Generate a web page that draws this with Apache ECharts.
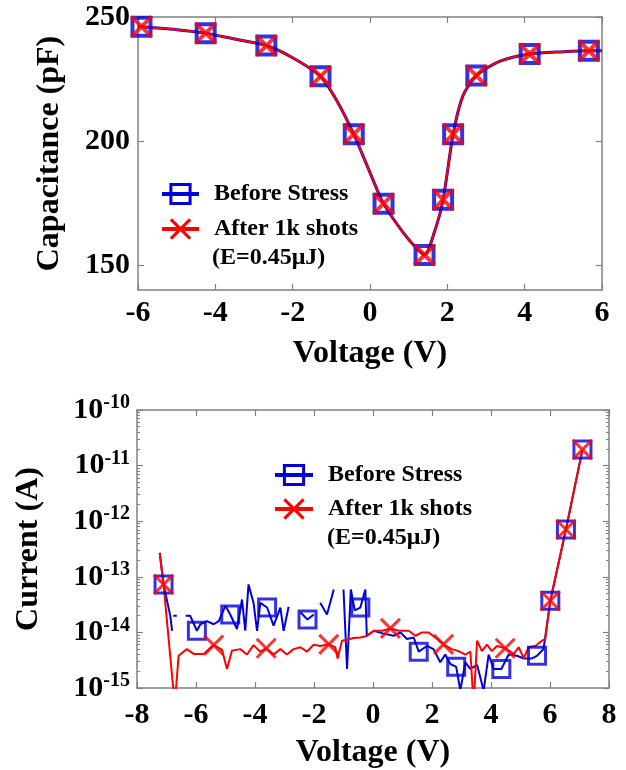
<!DOCTYPE html>
<html><head><meta charset="utf-8">
<script src="https://cdn.jsdelivr.net/npm/echarts@6/dist/echarts.min.js"></script>
<style>html,body{margin:0;padding:0;background:#fff}#c{width:626px;height:770px}</style>
</head><body><div id="c"></div>
<script>
// ---------- Top panel: C-V ----------
const capV      = [-6.0, -5.91, -5.0, -4.25, -3.5, -2.68, -1.99, -1.28, -0.85, -0.42, -0.04, 0.35, 0.84, 1.2, 1.41, 1.67, 1.89, 2.15, 2.4, 2.75, 3.35, 4.13, 5.0, 5.66, 6.0];
const capBefore = [246.4, 246.1, 244.9, 243.5, 241.1, 238.5, 233.5, 226.1, 216.1, 202.8, 188.8, 174.8, 163.5, 156.8, 154.1, 163.6, 176.4, 202.8, 218.1, 226.4, 232.1, 235.1, 236.0, 236.4, 236.4];
const capAfter  = [246.4, 246.1, 244.9, 243.5, 241.1, 238.5, 233.5, 226.1, 216.1, 202.8, 188.8, 174.8, 163.5, 156.8, 154.1, 163.6, 176.4, 202.8, 218.1, 226.4, 232.1, 235.1, 236.0, 236.4, 236.4];
const capMarkV      = [-5.91, -4.25, -2.68, -1.28, -0.42, 0.35, 1.41, 1.89, 2.15, 2.75, 4.13, 5.66];
const capMarkBefore = [246.1, 243.5, 238.5, 226.1, 202.8, 174.8, 154.1, 176.4, 202.8, 226.4, 235.1, 236.4];
const capMarkAfter  = [246.1, 243.5, 238.5, 226.1, 202.8, 174.8, 154.1, 176.4, 202.8, 226.4, 235.1, 236.4];
const capTicks = [150, 200, 250];

// ---------- Bottom panel: I-V ----------
const ivBeforeV = [-7.23, -7.10, -6.87, -6.81, -6.79, -6.77, -6.65, -6.6, -6.35, -6.2, -5.97, -5.85, -5.63, -5.40, -5.23, -5.0, -4.84, -4.61, -4.44, -4.33, -4.22, -4.05, -3.93, -3.82, -3.59, -3.37, -3.14, -3.03, -2.86, -2.7, -2.46, -2.22, -2.01, -1.9, -1.79, -1.56, -1.33, -1.2, -1.0, -0.88, -0.75, -0.62, -0.43, -0.26, -0.21, 0.03, 0.36, 0.70, 0.93, 1.15, 1.38, 1.55, 1.83, 2.05, 2.28, 2.45, 2.62, 2.82, 2.96, 3.13, 3.30, 3.53, 3.75, 3.92, 4.09, 4.35, 4.60, 4.88, 5.11, 5.39, 5.56, 5.78, 6.01, 6.54, 7.10];
const ivBeforeI = [2.7e-13, 7.3e-14, 1.96e-14, 1.07e-14, null, 2.0e-14, 2.0e-14, null, 2.0e-14, 2.0e-14, 1.07e-14, 1.4e-14, 1.6e-14, 1.4e-14, 1.6e-14, 3.0e-14, 2.1e-14, 1.15e-14, 3.9e-14, 1.07e-14, 7.3e-14, 3.4e-14, 1.07e-14, 3.4e-14, 2.8e-14, 1.32e-14, 2.8e-14, 1.07e-14, 2.9e-14, null, 2.3e-14, 1.7e-14, 2.1e-14, null, 3.4e-14, 2.1e-14, 5.9e-14, null, 5.9e-14, 2.2e-15, 5.9e-14, 2.5e-14, 2.8e-14, 5.9e-14, 8.7e-15, 1.07e-14, 9.5e-15, 8.7e-15, 1.0e-14, 7.6e-15, 8.1e-15, 4.5e-15, 5.7e-15, 5.0e-15, 2.9e-15, 4.0e-15, 2.7e-15, 2.4e-15, 9e-16, 2.9e-15, 2.2e-15, 2.6e-15, 9e-16, 4.0e-15, 2.2e-15, 2.2e-15, 4.0e-15, 3.8e-15, 3.4e-15, 3.4e-15, 3.8e-15, 5.0e-15, 3.7e-14, 7.1e-13, 1.94e-11];
const ivAfterV = [-7.23, -7.10, -6.72, -6.59, -6.31, -6.08, -5.74, -5.40, -5.12, -4.95, -4.78, -4.50, -4.27, -4.05, -3.82, -3.62, -3.37, -3.14, -2.92, -2.69, -2.46, -2.24, -2.01, -1.79, -1.50, -1.28, -1.20, -1.05, -0.88, -0.66, -0.43, -0.21, 0.03, 0.31, 0.59, 0.87, 1.21, 1.44, 1.66, 1.88, 2.11, 2.39, 2.67, 2.90, 3.13, 3.30, 3.41, 3.53, 3.69, 3.86, 4.03, 4.20, 4.48, 4.77, 4.94, 5.11, 5.27, 5.50, 5.73, 5.84, 6.01, 6.54, 7.10];
const ivAfterI = [2.7e-13, 7.3e-14, 5e-16, 3.8e-15, 5.0e-15, 4.1e-15, 4.1e-15, 5.9e-15, 4.9e-15, 2.2e-15, 4.7e-15, 5.0e-15, 4.0e-15, 5.9e-15, 4.5e-15, 5.2e-15, 4.0e-15, 5.0e-15, 4.0e-15, 5.0e-15, 5.4e-15, 4.5e-15, 6.0e-15, 5.7e-15, 6.1e-15, 5.4e-15, 3.4e-15, 7.1e-15, 7.4e-15, 7.9e-15, 8.1e-15, 8.6e-15, 1.07e-14, 1.07e-14, 1.18e-14, 1.07e-14, 1.07e-14, 8.7e-15, 1.0e-14, 1.0e-14, 8.1e-15, 6.1e-15, 5.0e-15, 4.6e-15, 4.0e-15, 4.5e-15, 5e-16, 7.1e-15, 4.6e-15, 6.0e-15, 4.6e-15, 5.7e-15, 5.2e-15, 4.1e-15, 5.4e-15, 3.4e-15, 5.4e-15, 5.7e-15, 7.1e-15, 7.6e-15, 3.7e-14, 7.1e-13, 1.94e-11];
const ivMarkBeforeV = [-7.10, -5.97, -4.84, -3.59, -2.22, -0.43, 1.55, 2.82, 4.35, 5.56, 6.01, 6.54, 7.10];
const ivMarkBeforeI = [7.3e-14, 1.07e-14, 2.1e-14, 2.8e-14, 1.7e-14, 2.8e-14, 4.5e-15, 2.4e-15, 2.2e-15, 3.8e-15, 3.7e-14, 7.1e-13, 1.94e-11];
const ivMarkAfterV = [-7.10, -5.40, -3.62, -1.50, 0.59, 2.39, 4.48, 6.01, 6.54, 7.10];
const ivMarkAfterI = [7.3e-14, 5.9e-15, 5.2e-15, 6.1e-15, 1.18e-14, 6.1e-15, 5.2e-15, 3.7e-14, 7.1e-13, 1.94e-11];
const ivDecadeExp = [-15, -14, -13, -12, -11, -10];

const seriesNames = ['Before Stress', 'After 1k shots'];
const legendNote = '(E=0.45μJ)';

// ---------- styling ----------
const FONT = '"Liberation Serif", "Times New Roman", serif';
const BLUE = '#0000d8', RED = '#ff0000', AXIS = '#808080';
const XSYM = 'path://M0,0L10,10M10,0L0,10';
const zip = (xs, ys) => xs.map((x, i) => [x, ys[i]]);

const minorLog = [];
for (let e = -15; e < -10; e++) for (let k = 2; k <= 9; k++) minorLog.push(e + Math.log10(k));

const tickStyle = { show: true, inside: true, length: 6, lineStyle: { color: AXIS, width: 1.2 } };
const lineStyleAxis = { show: true, onZero: false, lineStyle: { color: AXIS, width: 1.5 } };
const noLine = { show: false, onZero: false };
const lbl = { fontFamily: FONT, fontWeight: 'bold', fontSize: 30, color: '#000' };
const nameStyle = { fontFamily: FONT, fontWeight: 'bold', fontSize: 32, color: '#000' };

const blueItemTop = { color: 'rgba(0,0,0,0)', borderColor: BLUE, borderWidth: 4 };
const redItemTop = { color: RED, borderColor: RED, borderWidth: 4 };
const blueItem = { color: 'rgba(0,0,0,0)', borderColor: BLUE, borderWidth: 3 };
const redItem = { color: RED, borderColor: RED, borderWidth: 3 };

const option = {
  animation: false,
  backgroundColor: '#fff',
  grid: [
    { left: 138, top: 17, width: 464, height: 273 },
    { left: 137, top: 410, width: 472, height: 278 }
  ],
  xAxis: [
    { gridIndex: 0, type: 'value', position: 'bottom', min: -6, max: 6, interval: 2,
      axisLine: lineStyleAxis, axisTick: tickStyle, splitLine: { show: false },
      axisLabel: Object.assign({ margin: 8 }, lbl),
      name: 'Voltage (V)', nameLocation: 'middle', nameGap: 48, nameTextStyle: nameStyle },
    { gridIndex: 0, type: 'value', position: 'top', min: -6, max: 6, interval: 2,
      axisLine: lineStyleAxis, axisTick: tickStyle, splitLine: { show: false }, axisLabel: { show: false } },
    { gridIndex: 1, type: 'value', position: 'bottom', min: -8, max: 8, interval: 2,
      axisLine: lineStyleAxis, axisTick: tickStyle, splitLine: { show: false },
      axisLabel: Object.assign({ margin: 12 }, lbl),
      name: 'Voltage (V)', nameLocation: 'middle', nameGap: 49, nameTextStyle: nameStyle },
    { gridIndex: 1, type: 'value', position: 'top', min: -8, max: 8, interval: 2,
      axisLine: lineStyleAxis, axisTick: tickStyle, splitLine: { show: false }, axisLabel: { show: false } }
  ],
  yAxis: [
    { gridIndex: 0, type: 'value', position: 'left', min: 140, max: 250,
      axisLine: lineStyleAxis, axisTick: Object.assign({ customValues: capTicks }, tickStyle), splitLine: { show: false },
      axisLabel: Object.assign({ margin: 8, customValues: capTicks }, lbl),
      name: 'Capacitance (pF)', nameLocation: 'middle', nameGap: 72, nameTextStyle: nameStyle },
    { gridIndex: 0, type: 'value', position: 'right', min: 140, max: 250,
      axisLine: lineStyleAxis, axisTick: Object.assign({ customValues: capTicks }, tickStyle), splitLine: { show: false },
      axisLabel: { show: false } },
    { gridIndex: 1, type: 'log', logBase: 10, position: 'left', min: 1e-15, max: 1e-10,
      axisLine: lineStyleAxis, axisTick: tickStyle, splitLine: { show: false },
      axisLabel: { margin: 7, formatter: v => '{b|10}{s|' + ivDecadeExp[ivDecadeExp.indexOf(Math.round(Math.log10(v)))] + '}',
        rich: { b: { fontFamily: FONT, fontWeight: 'bold', fontSize: 30, lineHeight: 34, color: '#000' },
                s: { fontFamily: FONT, fontWeight: 'bold', fontSize: 20, lineHeight: 20, verticalAlign: 'top', color: '#000' } } },
      name: 'Current (A)', nameLocation: 'middle', nameGap: 92, nameTextStyle: nameStyle },
    { gridIndex: 1, type: 'log', logBase: 10, position: 'right', min: 1e-15, max: 1e-10,
      axisLine: lineStyleAxis, axisTick: tickStyle, splitLine: { show: false }, axisLabel: { show: false } },
    { gridIndex: 1, type: 'value', position: 'left', min: -15, max: -10,
      axisLine: noLine, splitLine: { show: false }, axisLabel: { show: false },
      axisTick: { show: true, inside: true, length: 3, customValues: minorLog, lineStyle: { color: AXIS, width: 1 } } },
    { gridIndex: 1, type: 'value', position: 'right', min: -15, max: -10,
      axisLine: noLine, splitLine: { show: false }, axisLabel: { show: false },
      axisTick: { show: true, inside: true, length: 3, customValues: minorLog, lineStyle: { color: AXIS, width: 1 } } }
  ],
  legend: [
    { data: seriesNames, orient: 'vertical', left: 160, top: 182, padding: 0,
      itemWidth: 37, itemHeight: 24, itemGap: 11, selectedMode: false,
      itemStyle: { borderWidth: 3 }, lineStyle: { width: 4 },
      textStyle: { fontFamily: FONT, fontWeight: 'bold', fontSize: 24, color: '#000', padding: [0, 0, 0, 10] } },
    { data: seriesNames, orient: 'vertical', left: 273, top: 463, padding: 0,
      itemWidth: 38, itemHeight: 24, itemGap: 10, selectedMode: false,
      itemStyle: { borderWidth: 3 }, lineStyle: { width: 4 },
      textStyle: { fontFamily: FONT, fontWeight: 'bold', fontSize: 24, color: '#000', padding: [0, 0, 0, 10] } }
  ],
  graphic: [
    { type: 'text', x: 212, y: 258, style: { text: legendNote, font: 'bold 24px ' + FONT, fill: '#000', verticalAlign: 'middle' } },
    { type: 'text', x: 327, y: 538, style: { text: legendNote, font: 'bold 24px ' + FONT, fill: '#000', verticalAlign: 'middle' } }
  ],
  series: [
    { type: 'line', name: seriesNames[0], xAxisIndex: 0, yAxisIndex: 0, data: zip(capV, capBefore),
      showSymbol: false, symbol: 'rect', symbolSize: 16, smooth: 0.25,
      lineStyle: { color: BLUE, width: 3 }, itemStyle: blueItem, z: 2 },
    { type: 'line', name: seriesNames[1], xAxisIndex: 0, yAxisIndex: 0, data: zip(capV, capAfter),
      showSymbol: false, symbol: XSYM, symbolSize: 18, smooth: 0.25,
      lineStyle: { color: RED, width: 2 }, itemStyle: redItem, z: 3 },
    { type: 'scatter', name: seriesNames[0], xAxisIndex: 0, yAxisIndex: 0, data: zip(capMarkV, capMarkBefore),
      symbol: 'rect', symbolSize: 18, itemStyle: blueItemTop, z: 4 },
    { type: 'scatter', name: seriesNames[1], xAxisIndex: 0, yAxisIndex: 0, data: zip(capMarkV, capMarkAfter),
      symbol: XSYM, symbolSize: 20, itemStyle: redItemTop, z: 5 },

    { type: 'line', name: seriesNames[0], xAxisIndex: 2, yAxisIndex: 2, data: zip(ivBeforeV, ivBeforeI),
      showSymbol: false, symbol: 'rect', symbolSize: 16, connectNulls: false,
      lineStyle: { color: BLUE, width: 2 }, itemStyle: blueItem, z: 2 },
    { type: 'line', name: seriesNames[1], xAxisIndex: 2, yAxisIndex: 2, data: zip(ivAfterV, ivAfterI),
      showSymbol: false, symbol: XSYM, symbolSize: 18,
      lineStyle: { color: RED, width: 2 }, itemStyle: redItem, z: 3 },
    { type: 'scatter', name: seriesNames[0], xAxisIndex: 2, yAxisIndex: 2, data: zip(ivMarkBeforeV, ivMarkBeforeI),
      symbol: 'rect', symbolSize: 17, itemStyle: blueItem, z: 4 },
    { type: 'scatter', name: seriesNames[1], xAxisIndex: 2, yAxisIndex: 2, data: zip(ivMarkAfterV, ivMarkAfterI),
      symbol: XSYM, symbolSize: 19, itemStyle: redItem, z: 5 }
  ]
};
const chart = echarts.init(document.getElementById('c'), null, { renderer: 'canvas' });
chart.setOption(option);
</script></body></html>
